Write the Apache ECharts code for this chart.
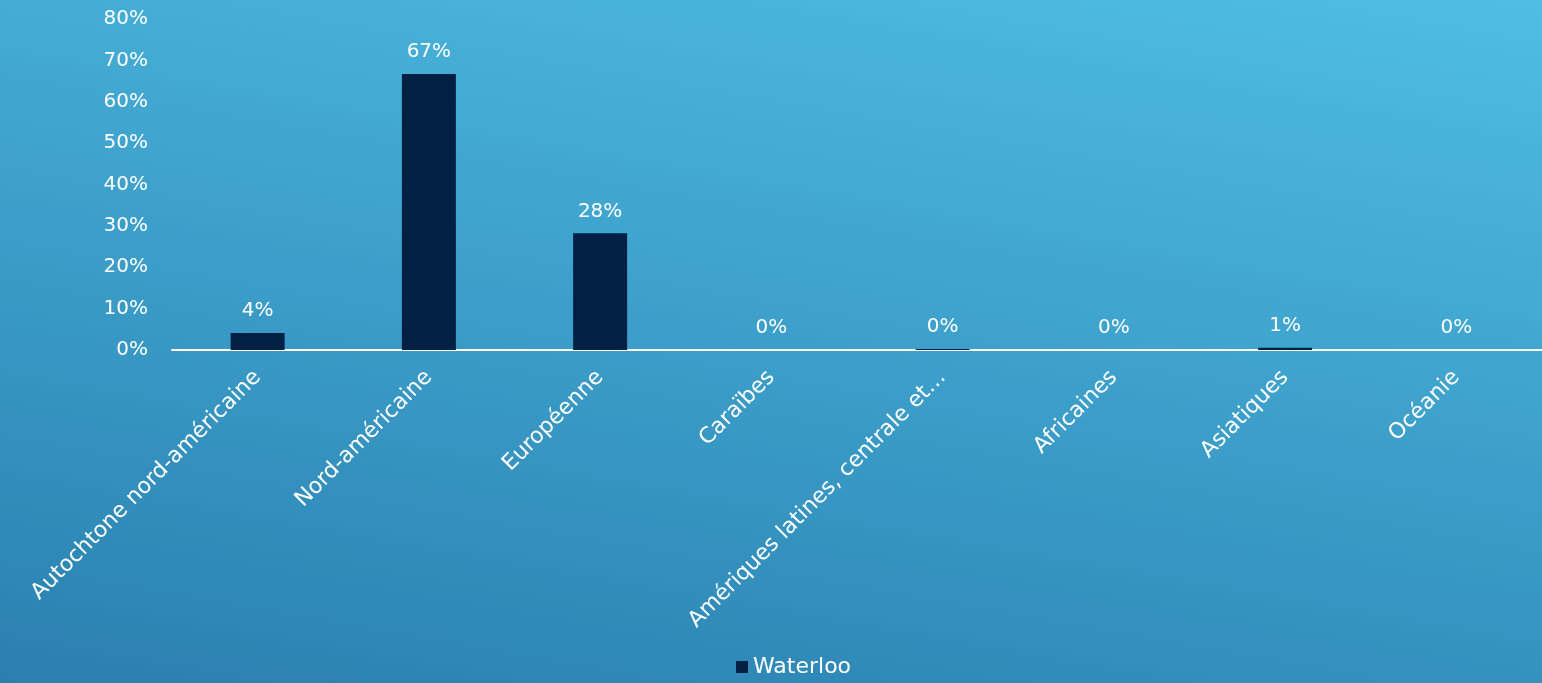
<!DOCTYPE html>
<html>
<head>
<meta charset="utf-8">
<script src="https://cdn.jsdelivr.net/npm/echarts@6/dist/echarts.min.js"></script>
<style>
html,body{margin:0;padding:0;width:1542px;height:683px;overflow:hidden;}
#c{width:1542px;height:683px;background:linear-gradient(190deg,#4fbee2 0%,#3ea2cd 45%,#2a80b0 100%);}
</style>
</head>
<body>
<div id="c"></div>
<script>
const categories = ["Autochtone nord-américaine","Nord-américaine","Européenne","Caraïbes","Amériques latines, centrale et du Sud","Africaines","Asiatiques","Océanie"];
const seriesName = "Waterloo";
const values = [4.1, 66.7, 28.2, 0, 0.25, 0, 0.55, 0];
const yTicks = [0,10,20,30,40,50,60,70,80];

const chart = echarts.init(document.getElementById('c'), null, {renderer:'canvas'});
const font = '"DejaVu Sans", sans-serif';
chart.setOption({
  backgroundColor:'transparent',
  textStyle:{fontFamily:font},
  grid:{left:172, top:19, width:1380, height:331, containLabel:false},
  legend:{
    data:[seriesName], bottom:0, left:731, itemWidth:12, itemHeight:12, itemGap:6,
    icon:'rect', textStyle:{color:'#fff', fontSize:22, fontFamily:font}
  },
  xAxis:{
    type:'category', data:categories,
    axisLine:{show:true, lineStyle:{color:'#fff', width:2}},
    axisTick:{show:false},
    axisLabel:{
      color:'#fff', fontSize:22, rotate:45, interval:0, margin:24, fontFamily:font,
      formatter:function(v){ return v.length>31 ? v.slice(0,30)+'…' : v; }
    }
  },
  yAxis:{
    type:'value', min:yTicks[0], max:yTicks[yTicks.length-1], interval:10,
    axisLine:{show:false}, axisTick:{show:false}, splitLine:{show:false},
    axisLabel:{color:'#fff', fontSize:20, margin:24, fontFamily:font, formatter:'{value}%'}
  },
  series:[{
    name:seriesName, type:'bar', data:values, barWidth:54,
    itemStyle:{color:'#022044'},
    label:{show:true, position:'top', distance:12, color:'#fff', fontSize:20, fontFamily:font,
      formatter:function(p){ return Math.round(p.value)+'%'; }}
  }]
});
</script>
</body>
</html>
